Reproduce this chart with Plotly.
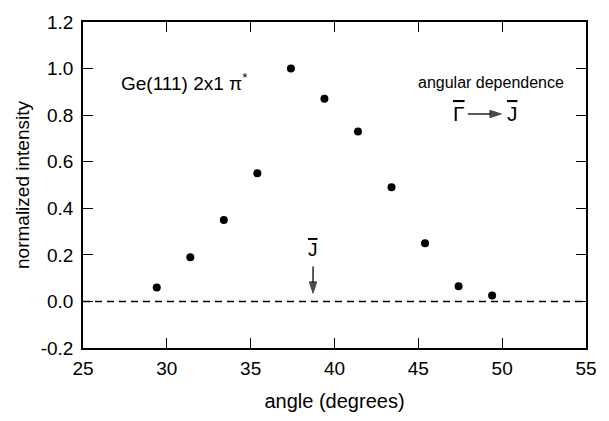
import plotly.graph_objects as go

angle = [29.4, 31.4, 33.4, 35.4, 37.4, 39.4, 41.4, 43.4, 45.4, 47.4, 49.4]
intensity = [0.06, 0.19, 0.35, 0.55, 1.00, 0.87, 0.73, 0.49, 0.25, 0.065, 0.025]
x_ticks = [25, 30, 35, 40, 45, 50, 55]
y_ticks = [-0.2, 0.0, 0.2, 0.4, 0.6, 0.8, 1.0, 1.2]
baseline_x = [25, 55]
baseline_y = [0, 0]
j_angle = 38.72
j_arrow_y = [0.15, 0.035]
gj_arrow_x = [47.95, 49.95]
gj_y = 0.805

font_family = "Liberation Sans, Arial, sans-serif"
ov = '<span style="text-decoration:overline">{}</span>'

fig = go.Figure()
fig.add_trace(go.Scatter(x=baseline_x, y=baseline_y, mode="lines",
                         line=dict(color="black", width=1.4, dash="7px,5px"),
                         showlegend=False, hoverinfo="skip"))
fig.add_trace(go.Scatter(x=angle, y=intensity, mode="markers",
                         marker=dict(color="black", size=8),
                         showlegend=False))
arrow_marker = dict(symbol="arrow", angleref="previous", size=[0, 12],
                    color="black", line=dict(color="black", width=1))
# arrow pointing to J-bar position
fig.add_trace(go.Scatter(x=[j_angle, j_angle], y=j_arrow_y, mode="lines+markers",
                         line=dict(color="black", width=1.3), marker=arrow_marker,
                         showlegend=False, hoverinfo="skip"))
# Gamma -> J arrow
fig.add_trace(go.Scatter(x=gj_arrow_x, y=[gj_y, gj_y], mode="lines+markers",
                         line=dict(color="black", width=1.3), marker=arrow_marker,
                         showlegend=False, hoverinfo="skip"))

fig.add_annotation(x=27.16, y=0.944, text="Ge(111) 2x1 π<sup>*</sup>", showarrow=False,
                   xanchor="left", yanchor="middle",
                   font=dict(size=19, color="black", family=font_family))
fig.add_annotation(x=49.35, y=0.94, text="angular dependence", showarrow=False,
                   xanchor="center", yanchor="middle",
                   font=dict(size=16, color="black", family=font_family))
fig.add_annotation(x=47.42, y=gj_y, text=ov.format("Γ"), showarrow=False,
                   xanchor="center", yanchor="middle",
                   font=dict(size=21, color="black", family=font_family))
fig.add_annotation(x=50.6, y=gj_y, text=ov.format("J"), showarrow=False,
                   xanchor="center", yanchor="middle",
                   font=dict(size=21, color="black", family=font_family))
fig.add_annotation(x=j_angle, y=0.225, text=ov.format("J"), showarrow=False,
                   xanchor="center", yanchor="middle",
                   font=dict(size=19, color="black", family=font_family))

axis_common = dict(showgrid=False, zeroline=False, showline=True, linecolor="black",
                   linewidth=1.6, mirror="ticks", ticks="inside", ticklen=10,
                   tickwidth=1.3, tickcolor="black",
                   tickfont=dict(size=19, color="black", family=font_family))

fig.update_xaxes(range=[25, 55], tickvals=x_ticks, ticktext=[str(v) for v in x_ticks],
                 ticklabelstandoff=2,
                 title=dict(text="angle (degrees)", standoff=16,
                            font=dict(size=20, color="black", family=font_family)),
                 **axis_common)
fig.update_yaxes(range=[-0.2, 1.2], tickvals=y_ticks, ticktext=[f"{v:.1f}" for v in y_ticks],
                 ticklabelstandoff=4,
                 title=dict(text="normalized intensity", standoff=6,
                            font=dict(size=19, color="black", family=font_family)),
                 **axis_common)

fig.update_layout(width=609, height=421, margin=dict(l=83, r=12, t=21, b=66),
                  plot_bgcolor="white", paper_bgcolor="white")

fig.write_html("out.html")
